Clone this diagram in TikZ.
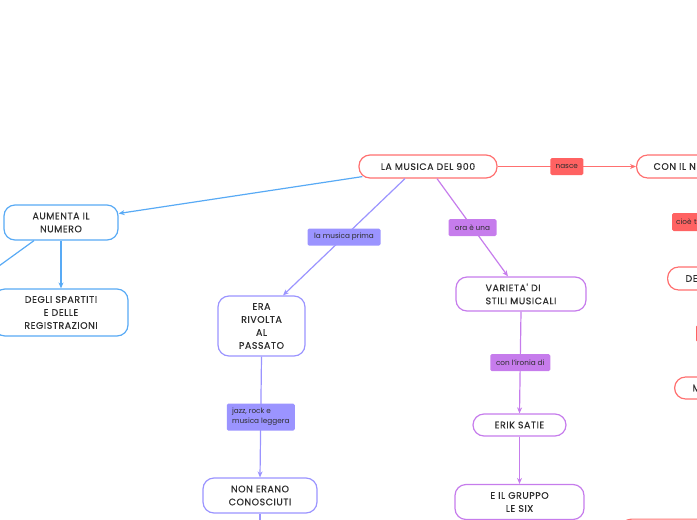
\documentclass[tikz,border=0pt]{standalone}
\usepackage{fontspec}
\setmainfont{Poppins}
\newfontfamily\concfont[LetterSpace=6,FakeBold=0.4]{Poppins}
\usetikzlibrary{arrows.meta}
\definecolor{rosso}{RGB}{255,112,112}
\definecolor{rossolbl}{RGB}{255,98,98}
\definecolor{azzurro}{RGB}{88,170,245}
\definecolor{lilla}{RGB}{155,148,255}
\definecolor{viola}{RGB}{198,124,236}
\definecolor{testo}{RGB}{45,45,45}

\begin{document}
\begin{tikzpicture}[x=1pt,y=-1pt,
  concetto/.style={draw=#1,rounded corners=11pt,line width=1.2pt,fill=white,text=testo,
    font=\concfont\fontsize{9.4}{13}\selectfont,align=center,inner sep=0pt},
  etich/.style={fill=#1,rounded corners=1.5pt,inner xsep=4pt,inner ysep=0pt,minimum height=17pt,
    text=testo,font=\fontsize{7.3}{10}\selectfont,align=left},
  freccia/.style={line width=1.2pt,-{Stealth[length=6pt,width=5pt]}},
  linea/.style={line width=1.2pt}]

\useasboundingbox (0,0) rectangle (697,520);
\clip (0,0) rectangle (697,520);

% concetti
\node[concetto=rosso,minimum width=138pt,minimum height=23pt] (root) at (428,166.5) {LA MUSICA DEL 900};
\node[concetto=rosso,anchor=west,minimum width=140pt,minimum height=23pt,text width=106pt,align=left] (con) at (636,166.5) {CON IL N};
\node[concetto=rosso,anchor=west,minimum width=120pt,minimum height=23pt,text width=84pt,align=left] (de) at (667,278.5) {DE};
\node[concetto=rosso,anchor=west,minimum width=120pt,minimum height=22pt,text width=84pt,align=left] (emme) at (674,388) {M};
\node[concetto=rosso,anchor=north west,minimum width=140pt,minimum height=30pt] (basso) at (620,518.5) {};

\node[concetto=azzurro,minimum width=114pt,minimum height=35pt] (aum) at (61,222.5) {AUMENTA IL\\NUMERO};
\node[concetto=azzurro,minimum width=134pt,minimum height=47pt] (degli) at (61,312.5) {DEGLI SPARTITI\\E DELLE\\REGISTRAZIONI};

\node[concetto=lilla,minimum width=87pt,minimum height=60pt] (era) at (261.5,326) {ERA\\RIVOLTA\\AL\\PASSATO};
\node[concetto=lilla,minimum width=114pt,minimum height=35pt] (noti) at (260,495.5) {NON ERANO\\CONOSCIUTI};

\node[concetto=viola,minimum width=130pt,minimum height=34pt,align=left] (varieta) at (521,294) {VARIETA' DI\\STILI MUSICALI};
\node[concetto=viola,minimum width=93pt,minimum height=22pt] (erik) at (519.5,425) {ERIK SATIE};
\node[concetto=viola,minimum width=129pt,minimum height=35pt] (six) at (519.5,502) {E IL GRUPPO\\LE SIX};

\coordinate (fuorisx) at (-30,287);
\coordinate (fuorigiu) at (260,545);

% collegamenti
\draw[rosso,freccia] (root.east) -- (con.west)
  node[midway,etich=rossolbl,minimum width=33pt] (nasce) {nasce};

\begin{scope}[azzurro]
\draw[freccia] ([shift={(4pt,2pt)}]root.south west) -- ([yshift=9pt]aum.east);
\draw[linea] ([xshift=-27pt]aum.south) -- (fuorisx);
\draw[freccia] (aum.south) -- (aum.south |- degli.north);
\end{scope}

\begin{scope}[lilla]
\draw[freccia] ([xshift=-23pt]root.south) -- ([xshift=21.5pt]era.north)
  node[midway,etich=lilla,minimum width=73pt] (prima) {la musica prima};
\draw[freccia] (era.south) -- (noti.north)
  node[midway,etich=lilla,minimum width=68pt,minimum height=27pt] (jazz) {jazz, rock e\\musica leggera};
\draw[linea] (noti.south) -- (fuorigiu);
\end{scope}

\begin{scope}[viola]
\draw[freccia] ([xshift=9pt]root.south) -- ([xshift=-13pt]varieta.north)
  node[midway,etich=viola,minimum width=48pt] (ora) {ora è una};
\draw[freccia] (varieta.south) -- (erik.north)
  node[midway,etich=viola,minimum width=60pt] (ironia) {con l'ironia di};
\draw[freccia] (erik.south) -- (six.north);
\end{scope}

\node[etich=rossolbl,anchor=west,minimum width=60pt,minimum height=18pt,text width=52pt] (cioe) at (672,222) {cioè t};
\node[etich=rossolbl,anchor=west,minimum width=60pt] (rossino) at (696,333.5) {};

\end{tikzpicture}
\end{document}
